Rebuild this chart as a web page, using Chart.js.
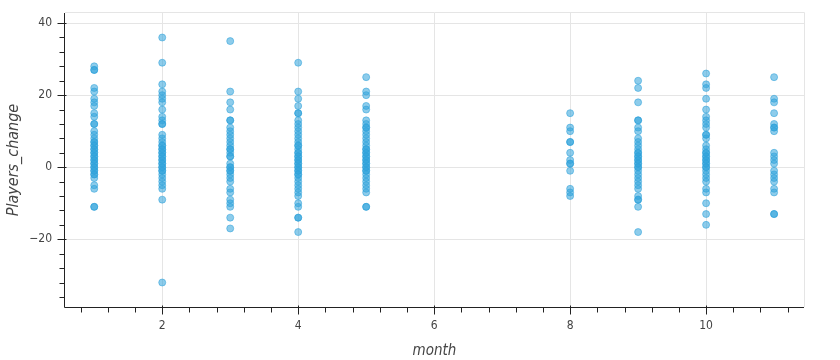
<!DOCTYPE html>
<html><head><meta charset="utf-8">
<script src="https://cdn.jsdelivr.net/npm/chart.js@4/dist/chart.umd.min.js"></script>
<style>html,body{margin:0;padding:0;background:#fff}#wrap{width:840px;height:360px}</style>
</head><body><div id="wrap"><canvas id="c" width="840" height="360"></canvas></div>
<script>
const months = [1, 2, 3, 4, 5, 8, 9, 10, 11];
const m1 = [28, 27, 27, 22, 21, 19, 18, 17, 15, 14, 12, 12, 10, 9, 8, 7, 7, 6, 6, 5, 5, 4, 4, 3, 3, 2, 2, 1, 1, 0, 0, -1, -1, -2, -2, -3, -5, -6, -11, -11];
const m2 = [36, 29, 23, 21, 20, 19, 18, 16, 14, 13, 12, 12, 9, 8, 7, 6, 6, 5, 5, 4, 4, 3, 3, 2, 2, 1, 1, 0, 0, -1, -1, -2, -3, -4, -5, -6, -9, -32];
const m3 = [35, 21, 18, 16, 13, 13, 11, 10, 9, 8, 7, 6, 5, 5, 4, 3, 3, 1, 0, 0, -1, -1, -2, -3, -4, -6, -7, -9, -10, -11, -14, -17];
const m4 = [29, 21, 19, 17, 15, 15, 13, 12, 11, 10, 9, 8, 7, 6, 6, 5, 4, 4, 3, 3, 2, 2, 1, 1, 0, 0, -1, -1, -2, -2, -3, -4, -5, -6, -7, -8, -10, -11, -14, -14, -18];
const m5 = [25, 21, 20, 17, 16, 13, 12, 11, 11, 10, 9, 8, 7, 6, 5, 5, 4, 4, 3, 3, 2, 2, 1, 1, 0, 0, -1, -1, -2, -3, -4, -5, -6, -7, -11, -11];
const m8 = [15, 11, 10, 7, 7, 4, 2, 1, 1, -1, -6, -7, -8];
const m9 = [24, 22, 18, 13, 13, 11, 10, 8, 7, 6, 5, 4, 4, 3, 3, 2, 2, 1, 1, 0, 0, -1, -2, -3, -4, -5, -6, -8, -9, -9, -11, -18];
const m10 = [26, 23, 22, 19, 16, 14, 13, 12, 11, 9, 9, 8, 6, 5, 4, 4, 3, 3, 2, 2, 1, 1, 0, 0, -1, -2, -3, -4, -6, -7, -10, -13, -16];
const m11 = [25, 19, 18, 15, 12, 11, 11, 10, 4, 3, 2, 1, -1, -2, -3, -4, -6, -7, -13, -13];
const changesByMonth = [m1, m2, m3, m4, m5, m8, m9, m10, m11];
const xTicks = [2, 4, 6, 8, 10];
const yTicks = [-20, 0, 20, 40];

const points = [];
months.forEach((m, i) => changesByMonth[i].forEach(v => points.push({x: m, y: v})));

const FONT = "'Liberation Sans Narrow', 'DejaVu Sans Condensed', 'Liberation Sans', Arial, sans-serif";
const fmt = v => (v < 0 ? '\u2212' + Math.abs(v) : String(v));

const axisPlugin = {
  id: 'bokehAxes',
  afterDraw(chart) {
    const ctx = chart.ctx, a = chart.chartArea;
    const xs = chart.scales.x, ys = chart.scales.y;
    ctx.save();
    ctx.strokeStyle = '#222';
    ctx.lineWidth = 1;
    ctx.beginPath();
    ctx.moveTo(a.left - 0.5, a.top); ctx.lineTo(a.left - 0.5, a.bottom + 0.5);
    ctx.moveTo(a.left - 0.5, a.bottom + 0.5); ctx.lineTo(a.right, a.bottom + 0.5);
    for (let v = 0.8; v <= xs.max + 1e-9; v += 0.4) {
      const r = Math.round(v * 10) / 10;
      const px = Math.round(xs.getPixelForValue(r)) + 0.5;
      const major = Math.abs(r / 2 - Math.round(r / 2)) < 1e-6;
      ctx.moveTo(px, a.bottom + (major ? -1.5 : 0.5)); ctx.lineTo(px, a.bottom + (major ? 7.5 : 5.5));
    }
    for (let v = -36; v <= ys.max + 1e-9; v += 4) {
      const py = Math.round(ys.getPixelForValue(v)) + 0.5;
      const major = v % 20 === 0;
      ctx.moveTo(a.left + (major ? 1.5 : -0.5), py); ctx.lineTo(a.left - (major ? 7.5 : 5.5), py);
    }
    ctx.stroke();
    ctx.restore();
  }
};

new Chart(document.getElementById('c'), {
  type: 'scatter',
  data: {
    datasets: [{
      data: points,
      backgroundColor: 'rgba(48,162,218,0.55)',
      borderColor: 'rgba(48,162,218,0.55)',
      borderWidth: 1,
      pointRadius: 3.5,
      pointHoverRadius: 3.5
    }]
  },
  options: {
    responsive: false,
    animation: false,
    events: [],
    layout: {padding: {top: 13, right: 36, left: 0, bottom: 0}},
    plugins: {legend: {display: false}, tooltip: {enabled: false}},
    scales: {
      x: {
        type: 'linear',
        min: 0.57, max: 11.44,
        afterBuildTicks: s => { s.ticks = xTicks.map(v => ({value: v})); },
        afterFit: s => { s.height = 53; s.paddingLeft = 0; s.paddingRight = 0; },
        grid: {color: '#e5e5e5', drawTicks: false, lineWidth: 1},
        border: {display: false},
        ticks: {color: '#444', font: {family: FONT, size: 12}, padding: 12, maxRotation: 0, callback: v => fmt(v)},
        title: {display: true, text: 'month', color: '#444', font: {family: FONT, size: 15, style: 'italic'}, padding: {top: 4, bottom: 0}}
      },
      y: {
        type: 'linear',
        min: -38.8, max: 42.8,
        afterBuildTicks: s => { s.ticks = yTicks.map(v => ({value: v})); },
        afterFit: s => { s.width = 65; s.paddingTop = 0; s.paddingBottom = 0; },
        grid: {color: '#e5e5e5', drawTicks: false, lineWidth: 1},
        border: {display: false},
        ticks: {color: '#444', font: {family: FONT, size: 12}, padding: 13, callback: v => fmt(v)},
        title: {display: true, text: 'Players_change', color: '#444', font: {family: FONT, size: 16, style: 'italic'}, padding: {top: 4, bottom: 4}}
      }
    }
  },
  plugins: [axisPlugin, {
    id: 'frame',
    beforeDatasetsDraw(chart) {
      const ctx = chart.ctx, a = chart.chartArea;
      ctx.save();
      ctx.strokeStyle = '#e5e5e5';
      ctx.beginPath();
      ctx.moveTo(a.left, a.top - 0.5); ctx.lineTo(a.right + 0.5, a.top - 0.5); ctx.lineTo(a.right + 0.5, a.bottom);
      ctx.stroke();
      ctx.restore();
    }
  }]
});
</script></body></html>
